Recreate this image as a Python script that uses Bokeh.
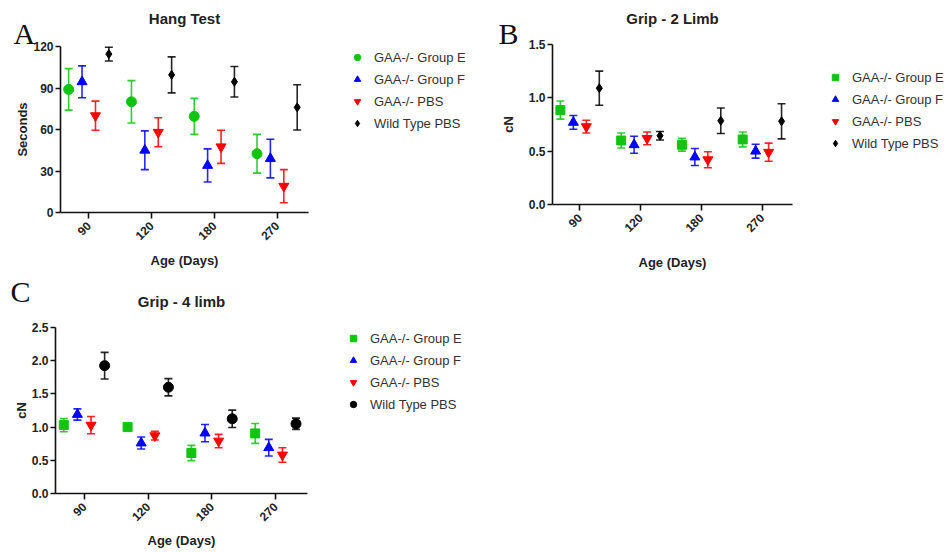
from bokeh.plotting import figure
from bokeh.models import (ColumnDataSource, Whisker, TeeHead, Legend, LegendItem, Label,
                          FixedTicker, NumeralTickFormatter, Range1d)
from bokeh.transform import dodge
from bokeh.layouts import column, row
from bokeh.embed import file_html
from bokeh.resources import INLINE
import math

# ---------------- data ----------------
ages = ["90", "120", "180", "270"]
groups = ["GAA-/- Group E", "GAA-/- Group F", "GAA-/- PBS", "Wild Type PBS"]
colors = ["#12c412", "#0000ff", "#ff0000", "#000000"]
offsets = [-0.32, -0.107, 0.107, 0.32]

# Panel A: Hang Test (seconds)
hang_E = [89, 80, 69.5, 42.5]
hang_E_err = [15, 15.3, 13, 14]
hang_F = [94.5, 45, 34, 39]
hang_F_err = [11.5, 14, 12, 14]
hang_PBS = [70, 58, 47.5, 19]
hang_PBS_err = [10.5, 10.5, 12, 12]
hang_WT = [114.5, 99.5, 94.5, 76]
hang_WT_err = [5, 13, 11, 16.4]

# Panel B: Grip - 2 Limb (cN)
grip2_E = [0.885, 0.60, 0.56, 0.61]
grip2_E_err = [0.085, 0.07, 0.06, 0.07]
grip2_F = [0.77, 0.56, 0.445, 0.50]
grip2_F_err = [0.065, 0.08, 0.08, 0.065]
grip2_PBS = [0.73, 0.62, 0.42, 0.49]
grip2_PBS_err = [0.06, 0.06, 0.075, 0.085]
grip2_WT = [1.09, 0.645, 0.785, 0.78]
grip2_WT_err = [0.16, 0.04, 0.12, 0.165]

# Panel C: Grip - 4 limb (cN)
grip4_E = [1.03, 1.0, 0.61, 0.905]
grip4_E_err = [0.1, 0.05, 0.115, 0.15]
grip4_F = [1.19, 0.76, 0.91, 0.69]
grip4_F_err = [0.085, 0.09, 0.13, 0.125]
grip4_PBS = [1.03, 0.87, 0.79, 0.58]
grip4_PBS_err = [0.13, 0.065, 0.1, 0.11]
grip4_WT = [1.925, 1.6, 1.125, 1.05]
grip4_WT_err = [0.2, 0.13, 0.13, 0.085]

y_ticks_A = [0, 30, 60, 90, 120]
y_ticks_B = [0, 0.5, 1.0, 1.5]
y_ticks_C = [0, 0.5, 1.0, 1.5, 2.0, 2.5]

FONT = "Liberation Sans"
XA0, XA1 = -0.45, 3.5   # plot-area extent in category units


def make_panel(letter, title, ylabel, means, errs, markers, sizes, ymax, yticks, fmt,
               W, H, box, letter_pos, title_y, legend_pos, ylabel_standoff, xlabel_standoff):
    L, R, T, B = box
    kx = (XA1 - XA0) / (R - L)
    ky = ymax / (B - T)
    p = figure(width=W, height=H,
               x_range=Range1d(XA0 - L * kx, XA1 + (W - R) * kx),
               y_range=Range1d(-(H - B) * ky, ymax + T * ky),
               output_backend="svg", toolbar_location=None,
               min_border=0, min_border_left=0, min_border_right=0,
               min_border_top=0, min_border_bottom=0)
    p.outline_line_color = None
    p.grid.visible = False
    p.background_fill_color = "white"
    p.border_fill_color = "white"

    xpos = list(range(len(ages)))
    items = []
    for i in range(4):
        m = means[i]
        e = errs[i]
        src = ColumnDataSource(dict(xpos=xpos, age=ages, mean=m,
                                    upper=[a + b for a, b in zip(m, e)],
                                    lower=[a - b for a, b in zip(m, e)]))
        base = dodge("xpos", offsets[i])
        w = Whisker(source=src, base=base, upper="upper", lower="lower",
                    dimension="height", line_color=colors[i], line_width=1.6,
                    line_alpha=0.85,
                    upper_head=TeeHead(size=8, line_color=colors[i], line_width=1.6, line_alpha=0.85),
                    lower_head=TeeHead(size=8, line_color=colors[i], line_width=1.6, line_alpha=0.85))
        p.add_layout(w)
        r = p.scatter(x=base, y="mean", source=src, marker=markers[i], size=sizes[i],
                      color=colors[i])
        items.append(LegendItem(label=groups[i], renderers=[r]))

    leg = Legend(items=items, location=legend_pos, margin=0, padding=0,
                 glyph_width=16, glyph_height=20, label_height=20, spacing=2,
                 label_standoff=9, border_line_color=None, background_fill_alpha=0,
                 label_text_font=FONT, label_text_font_size="13px",
                 label_text_color="#333333")
    p.add_layout(leg)

    # axes
    for ax in (p.xaxis[0], p.yaxis[0]):
        ax.axis_line_width = 1.6
        ax.axis_line_color = "#111111"
        ax.major_tick_line_width = 1.6
        ax.major_tick_line_color = "#111111"
        ax.major_tick_in = 0
        ax.minor_tick_out = 0
        ax.minor_tick_in = 0
        ax.major_label_text_font = FONT
        ax.major_label_text_font_style = "bold"
        ax.major_label_text_font_size = "12px"
        ax.major_label_text_color = "#222222"
        ax.axis_label_text_font = FONT
        ax.axis_label_text_font_style = "bold"
        ax.axis_label_text_font_size = "13px"
        ax.axis_label_text_color = "#222222"
    xa = p.xaxis[0]
    ya = p.yaxis[0]
    xa.fixed_location = 0
    xa.bounds = (XA0, XA1)
    xa.ticker = FixedTicker(ticks=xpos)
    xa.major_label_overrides = {i: a for i, a in zip(xpos, ages)}
    xa.major_label_orientation = math.pi / 4
    xa.major_tick_out = 6
    xa.major_label_standoff = 5
    xa.axis_label = "Age (Days)"
    xa.axis_label_standoff = xlabel_standoff

    ya.fixed_location = XA0
    ya.bounds = (0, ymax)
    ya.ticker = FixedTicker(ticks=yticks)
    ya.major_tick_out = 5
    ya.major_label_standoff = 2
    ya.axis_label = ylabel
    ya.axis_label_standoff = ylabel_standoff
    if fmt:
        ya.formatter = NumeralTickFormatter(format=fmt)

    p.add_layout(Label(x=letter_pos[0], y=letter_pos[1], x_units="screen", y_units="screen",
                       text=letter, text_font="Liberation Serif", text_font_size="30px",
                       text_color="#111111", text_baseline="alphabetic"))
    p.add_layout(Label(x=(L + R) / 2, y=title_y, x_units="screen", y_units="screen",
                       text=title, text_font=FONT, text_font_style="bold",
                       text_font_size="15px", text_color="#222222",
                       text_align="center", text_baseline="middle"))
    return p


pA = make_panel("A", "Hang Test", "Seconds",
                [hang_E, hang_F, hang_PBS, hang_WT],
                [hang_E_err, hang_F_err, hang_PBS_err, hang_WT_err],
                ["circle", "triangle", "inverted_triangle", "diamond"], [10, 10, 10, 9],
                120, y_ticks_A, None,
                476, 270, (60, 308, 46, 212), (13, 237), 252, (349, 137), 0, 6)

pB = make_panel("B", "Grip - 2 Limb", "cN",
                [grip2_E, grip2_F, grip2_PBS, grip2_WT],
                [grip2_E_err, grip2_F_err, grip2_PBS_err, grip2_WT_err],
                ["square", "triangle", "inverted_triangle", "diamond"], [9, 10, 10, 9],
                1.5, y_ticks_B, "0.0",
                472, 270, (76, 316, 44, 204), (22, 237), 252, (351, 117), 10, 16)

pC = make_panel("C", "Grip - 4 limb", "cN",
                [grip4_E, grip4_F, grip4_PBS, grip4_WT],
                [grip4_E_err, grip4_F_err, grip4_PBS_err, grip4_WT_err],
                ["square", "triangle", "inverted_triangle", "circle"], [9, 10, 10, 10],
                2.5, y_ticks_C, "0.0",
                476, 280, (55, 307, 57, 223), (10, 259), 249, (345, 136), 0, 5)

layout = column(row(pA, pB), pC)
open("out.html", "w").write(file_html(layout, INLINE))
